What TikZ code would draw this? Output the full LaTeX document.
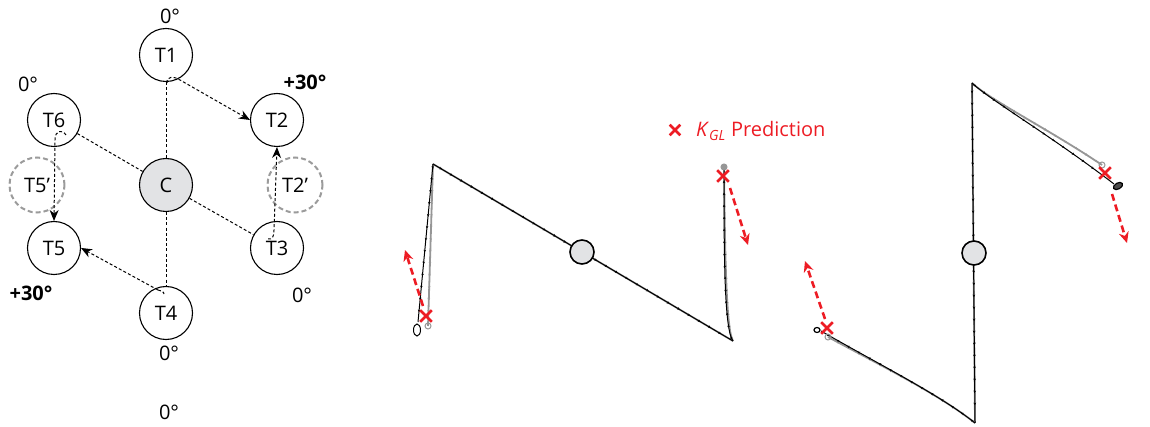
\documentclass[tikz,border=0pt]{standalone}
\usepackage{fontspec}
\setmainfont{Open Sans}
\usetikzlibrary{arrows.meta,decorations.markings,shapes.misc}
\definecolor{kred}{RGB}{237,28,36}
\definecolor{cfill}{RGB}{226,227,229}
\definecolor{traj}{RGB}{150,150,150}
\definecolor{ghostc}{RGB}{155,155,155}
\begin{document}
\begin{tikzpicture}[x=1pt,y=-1pt,
  tfont/.style={font=\fontsize{20}{23}\selectfont},
  tcirc/.style={circle,draw,line width=1.1pt,minimum size=53pt,inner sep=0pt,tfont},
  ccirc/.style={tcirc,fill=cfill},
  ghost/.style={circle,draw=ghostc,line width=2pt,dash pattern=on 5pt off 3pt,minimum size=55pt,inner sep=0pt,tfont},
  lbl/.style={inner sep=0pt,tfont},
  blbl/.style={inner sep=0pt,font=\fontsize{20}{23}\selectfont\bfseries},
  dotl/.style={line width=1pt,dash pattern=on 3pt off 2.2pt},
  darr/.style={dotl,-{Stealth[length=11pt,width=9pt]}},
  ticks/.style={postaction={decorate},decoration={markings,mark=between positions 0.03 and 0.97 step 12pt with {\arrow{Stealth[length=2.5pt,width=2.5pt]}}}},
  blk/.style={line width=1pt,black,ticks},
  gry/.style={line width=1.8pt,traj,ticks},
  jointc/.style={circle,draw,line width=1.6pt,fill=cfill,minimum size=24pt,inner sep=0pt},
  endc/.style={circle,draw=traj,line width=1pt,minimum size=6pt,inner sep=0pt},
  rx/.style={cross out,draw=kred,line width=2.6pt,minimum size=9pt,inner sep=0pt},
  rarr/.style={kred,line width=2.6pt,dash pattern=on 7pt off 4pt,-{Stealth[length=11pt,width=10pt]}}
]
\useasboundingbox (0,0) rectangle (1150,427);

% ---------- left diagram ----------
\node[tcirc] (T1) at (166,55) {T1};
\node[tcirc] (T2) at (277,120) {T2};
\node[tcirc] (T6) at (54,120) {T6};
\node[ccirc] (C) at (166,185) {C};
\node[ghost] (T5g) at (37,185) {T5’};
\node[ghost] (T2g) at (295,185) {T2’};
\node[tcirc] (T5) at (54,248) {T5};
\node[tcirc] (T3) at (277,248) {T3};
\node[tcirc] (T4) at (166,313) {T4};

\node[lbl] (a1) at (170,16) {0°};
\node[lbl] (a6) at (28,84) {0°};
\node[blbl] (a2) at (305,82) {+30°};
\node[blbl] (a5) at (31,293) {+30°};
\node[lbl] (a3) at (302,295) {0°};
\node[lbl] (a4) at (169,353) {0°};
\node[lbl,anchor=north] (a0) at (169,405) {0°};

\draw[dotl] (T1) -- (C);
\draw[dotl] (C) -- (T4);
\draw[dotl] (T6) -- (C);
\draw[dotl] (C) -- (T3);

\coordinate (s1) at (167,83);
\coordinate (s6) at (55,140);
\draw[darr] (s1) .. controls (166,76) and (174,76) .. (180,80) -- (T2.west);
\draw[darr] (66,135) .. controls (62,129) and (55,130) .. (s6) -- (T5.north);
\draw[darr] (268,239) .. controls (272,240) and (274,237) .. (274,230) -- (T2.south);
\draw[dotl] (158,290) .. controls (161,290) and (164,292) .. (164,294);
\draw[darr] (158,290) -- (T5.east);

% ---------- plot 1 ----------
\coordinate (p1tl) at (433,164);
\coordinate (p1bl) at (418,322);
\coordinate (p1blg) at (428,326);
\coordinate (p1br) at (733,341);
\coordinate (p1tr) at (724,167);
\draw[gry] (p1tl) -- (p1blg);
\draw[gry] (p1tl) -- (p1br);
\draw[gry] (p1br) .. controls (726,330) and (725,250) .. (p1tr);
\draw[blk] (p1tl) -- (p1bl);
\draw[blk] (p1tl) -- (p1br);
\draw[blk] (p1br) .. controls (724,330) and (724,250) .. (p1tr);
\node[endc] (e1) at (p1blg) {};
\node[endc,fill=traj] (e2) at (p1tr) {};
\draw[line width=1pt] (417,330) ellipse (3.5 and 6);
\node[jointc] (J1) at (582,252) {};
\node[rx] (x1) at (426,316) {};
\node[rx] (x2) at (723,176) {};
\coordinate (r1a) at (423,306);
\coordinate (r1b) at (405,250);
\coordinate (r2a) at (730,188);
\coordinate (r2b) at (748,245);
\draw[rarr] (r1a) -- (r1b);
\draw[rarr] (r2a) -- (r2b);

% ---------- legend ----------
\node[rx,minimum size=8pt] (lx) at (675,130) {};
\node[anchor=base west,inner sep=0pt,text=kred,tfont] (lt) at (696,137) {\textit{K}\textsubscript{\textit{GL}} Prediction};

% ---------- plot 2 ----------
\coordinate (p2t) at (972,83);
\coordinate (p2b) at (975,423);
\coordinate (p2ll) at (828,337);
\coordinate (p2ur) at (1102,165);
\coordinate (p2urb) at (1114,184);
\draw[gry] (p2t) -- (p2b);
\draw[gry] (p2b) .. controls (940,395) and (880,365) .. (p2ll);
\draw[gry] (p2t) .. controls (990,100) and (1050,130) .. (p2ur);
\draw[blk] (p2t) -- (p2b);
\draw[blk] (p2b) .. controls (940,395) and (880,365) .. (821,331);
\draw[blk] (p2t) .. controls (990,100) and (1050,135) .. (p2urb);
\node[endc] (e3) at (p2ll) {};
\node[endc] (e4) at (p2ur) {};
\draw[line width=1.2pt] (817,330) ellipse (3 and 2.5);
\draw[line width=1.2pt,fill=black!70,rotate around={30:(1118,186)}] (1118,186) ellipse (5 and 3);
\node[jointc] (J2) at (974,253) {};
\node[rx] (x3) at (827,328) {};
\node[rx] (x4) at (1105,173) {};
\coordinate (r3a) at (825,319);
\coordinate (r3b) at (805,261);
\coordinate (r4a) at (1112,194);
\coordinate (r4b) at (1127,243);
\draw[rarr] (r3a) -- (r3b);
\draw[rarr] (r4a) -- (r4b);
\end{tikzpicture}
\end{document}
